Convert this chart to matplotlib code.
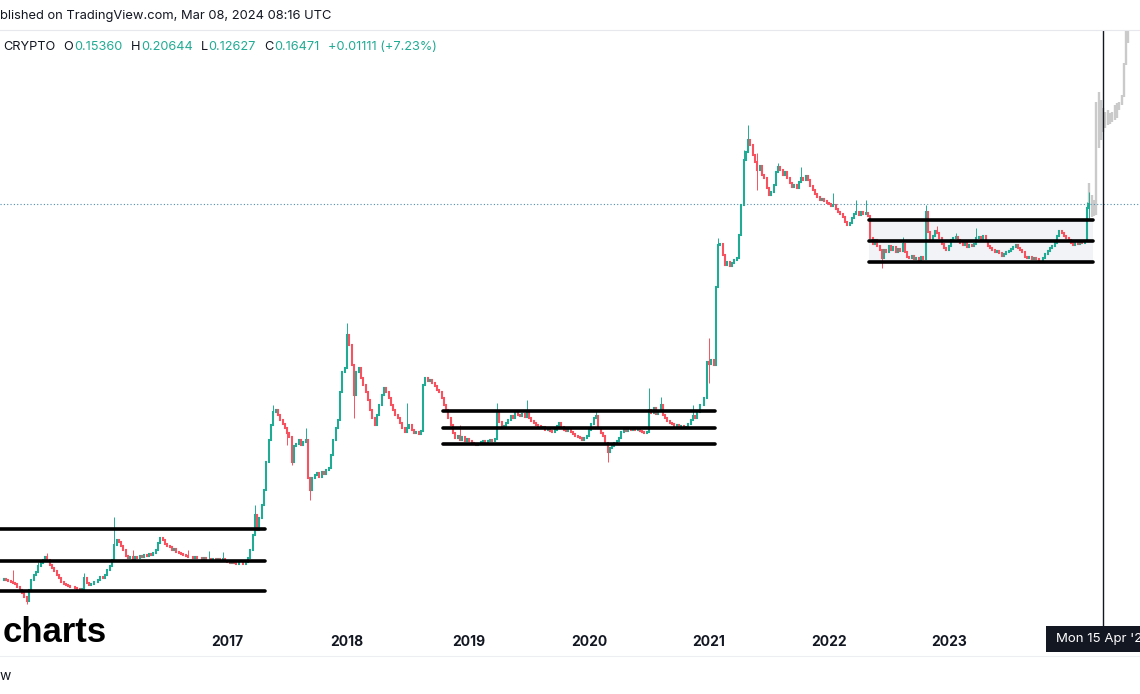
import numpy as np
import pandas as pd
import matplotlib
matplotlib.use('Agg')
import matplotlib.pyplot as plt
import matplotlib.dates as mdates
from matplotlib.lines import Line2D
from matplotlib.patches import Rectangle

plt.rcParams['font.family'] = ['Inter', 'DejaVu Sans']

# weekly closes (log scale), one list per calendar year
first_open = 1.30e-4
close_2015 = [1.29e-4, 1.29e-4, 1.31e-4, 1.29e-4, 1.26e-4, 1.24e-4, 1.21e-4, 1.19e-4, 1.12e-4, 1.06e-4,
              1.00e-4, 9.3e-5, 8.6e-5, 1.06e-4, 1.29e-4, 1.41e-4, 1.50e-4, 1.68e-4, 1.78e-4, 1.88e-4,
              1.99e-4, 1.88e-4, 1.71e-4, 1.62e-4, 1.53e-4, 1.41e-4, 1.34e-4, 1.24e-4, 1.19e-4, 1.17e-4,
              1.15e-4, 1.12e-4, 1.12e-4, 1.10e-4, 1.08e-4, 1.06e-4, 1.08e-4, 1.34e-4, 1.21e-4, 1.17e-4,
              1.19e-4, 1.24e-4, 1.24e-4, 1.29e-4, 1.36e-4, 1.34e-4, 1.41e-4]
close_2016 = [1.56e-4, 1.68e-4, 1.88e-4, 2.50e-4, 2.75e-4, 2.65e-4, 2.46e-4, 2.28e-4, 2.03e-4, 1.95e-4,
              1.99e-4, 1.92e-4, 1.99e-4, 1.95e-4, 2.03e-4, 1.99e-4, 2.07e-4, 2.03e-4, 2.11e-4, 2.07e-4,
              2.15e-4, 2.28e-4, 2.60e-4, 2.86e-4, 2.75e-4, 2.55e-4, 2.46e-4, 2.41e-4, 2.28e-4, 2.32e-4,
              2.19e-4, 2.15e-4, 2.11e-4, 2.07e-4, 2.03e-4, 1.99e-4, 1.99e-4, 1.95e-4, 1.99e-4, 1.95e-4,
              1.95e-4, 1.92e-4, 1.95e-4, 1.92e-4, 1.92e-4, 1.88e-4, 1.92e-4, 1.88e-4, 1.92e-4, 1.88e-4,
              1.92e-4, 1.85e-4]
close_2017 = [1.81e-4, 1.78e-4, 1.81e-4, 1.78e-4, 1.74e-4, 1.78e-4, 1.78e-4, 1.74e-4, 1.81e-4, 1.95e-4,
              2.28e-4, 3.03e-4, 4.43e-4, 3.33e-4, 4.18e-4, 5.36e-4, 7.13e-4, 1.22e-3, 1.85e-3, 2.46e-3,
              3.15e-3, 3.27e-3, 2.97e-3, 2.70e-3, 2.50e-3, 2.32e-3, 2.11e-3, 1.95e-3, 1.22e-3, 1.65e-3,
              1.71e-3, 1.85e-3, 1.68e-3, 1.78e-3, 1.85e-3, 8.96e-4, 7.13e-4, 8.96e-4, 9.48e-4, 9.85e-4,
              9.13e-4, 1.00e-3, 9.67e-4, 1.04e-3, 1.08e-3, 1.39e-3, 1.85e-3, 2.32e-3, 2.70e-3, 4.60e-3,
              6.74e-3, 7.27e-3]
close_2018 = [1.36e-2, 1.13e-2, 7.69e-3, 4.35e-3, 6.74e-3, 7.27e-3, 6.01e-3, 5.26e-3, 4.60e-3, 3.95e-3,
              3.27e-3, 2.81e-3, 2.46e-3, 2.97e-3, 3.59e-3, 4.35e-3, 4.96e-3, 4.60e-3, 4.11e-3, 3.59e-3,
              3.27e-3, 2.97e-3, 2.81e-3, 2.55e-3, 2.32e-3, 2.15e-3, 2.32e-3, 2.46e-3, 2.23e-3, 2.11e-3,
              2.15e-3, 2.07e-3, 2.19e-3, 5.26e-3, 6.01e-3, 5.67e-3, 5.78e-3, 5.46e-3, 5.16e-3, 4.78e-3,
              4.60e-3, 4.11e-3, 3.59e-3, 3.27e-3, 2.81e-3, 2.46e-3, 2.11e-3, 1.92e-3, 1.99e-3, 1.85e-3,
              1.95e-3, 1.81e-3, 1.88e-3]
close_2019 = [1.81e-3, 1.74e-3, 1.71e-3, 1.68e-3, 1.71e-3, 1.78e-3, 1.81e-3, 1.78e-3, 1.81e-3, 1.85e-3,
              1.81e-3, 1.88e-3, 3.09e-3, 2.60e-3, 2.32e-3, 2.41e-3, 2.55e-3, 2.70e-3, 2.92e-3, 2.81e-3,
              3.09e-3, 2.97e-3, 2.92e-3, 3.03e-3, 2.86e-3, 3.15e-3, 2.81e-3, 2.65e-3, 2.55e-3, 2.46e-3,
              2.41e-3, 2.32e-3, 2.36e-3, 2.23e-3, 2.28e-3, 2.19e-3, 2.15e-3, 2.23e-3, 2.41e-3, 2.55e-3,
              2.36e-3, 2.23e-3, 2.19e-3, 2.28e-3, 2.15e-3, 2.07e-3, 1.99e-3, 1.95e-3, 1.92e-3, 1.85e-3,
              1.92e-3, 1.99e-3]
close_2020 = [2.23e-3, 2.50e-3, 2.81e-3, 2.92e-3, 2.32e-3, 2.11e-3, 1.99e-3, 1.74e-3, 1.47e-3, 1.59e-3,
              1.65e-3, 1.74e-3, 1.81e-3, 1.92e-3, 2.15e-3, 2.23e-3, 2.19e-3, 2.28e-3, 2.23e-3, 2.32e-3,
              2.23e-3, 2.28e-3, 2.19e-3, 2.15e-3, 2.11e-3, 2.15e-3, 3.27e-3, 3.09e-3, 3.39e-3, 3.03e-3,
              3.21e-3, 3.59e-3, 2.97e-3, 2.81e-3, 2.65e-3, 2.55e-3, 2.50e-3, 2.41e-3, 2.46e-3, 2.36e-3,
              2.41e-3, 2.32e-3, 2.36e-3, 2.50e-3, 2.70e-3, 2.92e-3, 2.81e-3, 3.15e-3, 3.59e-3, 3.59e-3,
              4.11e-3, 8.15e-3]
close_2021 = [7.84e-3, 8.46e-3, 7.69e-3, 3.40e-2, 7.55e-2, 7.69e-2, 6.24e-2, 5.16e-2, 5.46e-2, 5.06e-2,
              5.36e-2, 5.67e-2, 5.89e-2, 9.13e-2, 0.161, 0.380, 0.443, 0.556, 0.506, 0.418,
              0.366, 0.314, 0.339, 0.286, 0.270, 0.223, 0.195, 0.207, 0.236, 0.303,
              0.333, 0.314, 0.286, 0.303, 0.270, 0.245, 0.227, 0.236, 0.223, 0.250,
              0.270, 0.260, 0.280, 0.260, 0.232, 0.215, 0.199, 0.188, 0.178, 0.181,
              0.174, 0.168]
close_2022 = [0.165, 0.158, 0.161, 0.150, 0.141, 0.136, 0.129, 0.117, 0.110, 0.115,
              0.126, 0.136, 0.141, 0.133, 0.141, 0.136, 0.139, 0.131, 8.62e-2, 7.69e-2,
              8.30e-2, 7.40e-2, 6.86e-2, 5.89e-2, 6.86e-2, 6.60e-2, 7.40e-2, 6.86e-2, 7.27e-2, 6.60e-2,
              6.99e-2, 6.73e-2, 7.69e-2, 6.60e-2, 6.00e-2, 5.89e-2, 6.12e-2, 5.78e-2, 5.89e-2, 5.67e-2,
              6.00e-2, 5.78e-2, 0.141, 9.67e-2, 8.14e-2, 8.96e-2, 9.85e-2, 9.48e-2, 8.62e-2, 7.69e-2,
              7.13e-2, 6.86e-2]
close_2023 = [7.40e-2, 8.30e-2, 8.62e-2, 8.79e-2, 8.30e-2, 7.84e-2, 7.55e-2, 7.84e-2, 7.27e-2, 7.55e-2,
              7.40e-2, 7.69e-2, 8.62e-2, 8.79e-2, 8.30e-2, 8.96e-2, 8.14e-2, 7.40e-2, 7.13e-2, 6.86e-2,
              6.60e-2, 6.73e-2, 6.48e-2, 6.12e-2, 6.36e-2, 6.60e-2, 6.73e-2, 6.99e-2, 7.27e-2, 7.55e-2,
              7.13e-2, 6.86e-2, 6.60e-2, 6.00e-2, 5.89e-2, 6.00e-2, 5.78e-2, 5.89e-2, 5.78e-2, 5.67e-2,
              5.67e-2, 5.89e-2, 6.36e-2, 6.73e-2, 7.13e-2, 7.40e-2, 7.84e-2, 8.96e-2, 9.85e-2, 9.48e-2,
              8.96e-2, 8.62e-2]
close_2024 = [8.30e-2, 7.84e-2, 7.55e-2, 7.84e-2, 7.69e-2, 7.99e-2, 7.84e-2, 8.14e-2, 0.1536, 0.16471]

# notable wicks (week index -> price)
high_wicks = {6: 1.56e-4, 17: 1.81e-4, 21: 2.15e-4, 37: 1.47e-4, 50: 4.3e-4, 58: 2.28e-4, 82: 2.28e-4,
              91: 2.23e-4, 97: 2.19e-4, 111: 5.36e-4, 119: 3.59e-3, 133: 2.32e-3, 151: 1.71e-2,
              177: 3.73e-3, 200: 2.46e-3, 216: 3.73e-3, 229: 3.95e-3, 259: 3.21e-3, 282: 4.96e-3,
              287: 4.18e-3, 301: 3.59e-3, 308: 1.29e-2, 312: 8.62e-2, 323: 0.460, 325: 0.740,
              329: 0.434, 338: 0.359, 348: 0.333, 362: 0.203, 372: 0.178, 376: 0.178, 392: 8.79e-2,
              402: 0.161, 407: 0.108, 415: 9.48e-2, 424: 0.104, 472: 0.17, 473: 0.20644}
low_wicks = {12: 8.1e-5, 125: 1.68e-3, 127: 1.15e-3, 135: 5.89e-4, 154: 2.81e-3, 264: 1.22e-3,
             308: 5.46e-3, 329: 0.215, 383: 4.87e-2, 473: 0.12627}

# projected (grey) bars after the last candle
ghost_lo = [0.161, 0.129, 0.130, 0.133, 0.478, 0.556, 0.648, 0.699, 0.740, 0.754,
            0.784, 0.814, 0.845, 0.985, 1.08, 1.25, 2.3, 3.5]
ghost_hi = [0.245, 0.195, 0.178, 1.15, 1.39, 1.19, 1.02, 0.948, 0.985, 0.930,
            0.948, 1.08, 1.13, 1.15, 1.31, 2.4, 5.5, 6.0]

# drawn range lines and their date spans
range_2016 = [3.37e-4, 1.86e-4, 1.04e-4]
range_2019 = [3.23e-3, 2.33e-3, 1.71e-3]
range_2023 = [0.1214, 8.19e-2, 5.43e-2]
range_dates = [('2015-01-01', '2017-04-26'), ('2018-10-19', '2021-01-21'), ('2022-05-05', '2024-03-16')]

last_close = 0.16471
cross_date = '2024-04-15'
tick_years = [2017, 2018, 2019, 2020, 2021, 2022, 2023]

closes = np.array(close_2015 + close_2016 + close_2017 + close_2018 + close_2019 +
                  close_2020 + close_2021 + close_2022 + close_2023 + close_2024)
dates = pd.date_range('2015-02-09', periods=len(closes), freq='7D')
opens = np.concatenate([[first_open], closes[:-1]])
highs = np.maximum(opens, closes)
lows = np.minimum(opens, closes)
for k, v in high_wicks.items():
    highs[k] = max(highs[k], v)
for k, v in low_wicks.items():
    lows[k] = min(lows[k], v)

x = mdates.date2num(dates.to_pydatetime())
up = closes >= opens
cols = np.where(up, '#22ab94', '#f7525f')

W, H = 1140, 694
fig = plt.figure(figsize=(W / 100, H / 100), dpi=100)
fig.patch.set_facecolor('white')
ax = fig.add_axes([0, 66 / H, 1, 598 / H])
ax.set_yscale('log')
ax.set_ylim(5.16e-5, 4.51)
ax.set_xlim(mdates.date2num(pd.Timestamp('2015-02-12')), mdates.date2num(pd.Timestamp('2024-08-05')))
for s in ax.spines.values():
    s.set_visible(False)
ax.yaxis.set_visible(False)

# grey projection
gx = mdates.date2num(pd.date_range('2024-03-04', periods=len(ghost_lo), freq='7D').to_pydatetime())
ax.vlines(gx, ghost_lo, ghost_hi, colors='#cacaca', lw=1.7, zorder=1, capstyle='butt')

# highlighted box of the last range
d0, d1 = [mdates.date2num(pd.Timestamp(d)) for d in range_dates[2]]
ax.fill_between([d0, d1], range_2023[2], range_2023[0], color='#f1f3f7', lw=0, zorder=0.5)

# candles
ax.vlines(x, lows, highs, colors=cols, lw=0.7, zorder=2)
ax.vlines(x, np.minimum(opens, closes), np.maximum(opens, closes), colors=cols, lw=1.5,
          zorder=2, capstyle='projecting')

for levels, (a, b) in zip([range_2016, range_2019, range_2023], range_dates):
    ax.hlines(levels, mdates.date2num(pd.Timestamp(a)), mdates.date2num(pd.Timestamp(b)),
              colors='black', lw=2.6, zorder=3, capstyle='round')

ax.axhline(last_close, color='#4f8fb0', lw=0.8, ls=(0, (1, 2)), zorder=1.5)
ax.axvline(mdates.date2num(pd.Timestamp(cross_date)), color='#131722', lw=1, zorder=4)

ticks = [x[dates.year == y][0] for y in tick_years]
ax.set_xticks(ticks)
ax.set_xticklabels([str(y) for y in tick_years], fontweight='bold', fontsize=10, color='#131722')
ax.tick_params(axis='x', length=0, pad=5)

# header, legend and frame lines
fig.text(0, 1 - 16 / H, 'blished on TradingView.com, Mar 08, 2024 08:16 UTC', ha='left', va='center',
         fontsize=9.3, color='#131722')
fig.add_artist(Line2D([0, 1], [1 - 30 / H] * 2, color='#e6e8ee', lw=0.8))
fig.add_artist(Line2D([0, 1], [1 - 656 / H] * 2, color='#eceef2', lw=0.8))

legend_parts = [(3, 'CRYPTO', '#131722'), (63, 'O', '#131722'), (74, '0.15360', '#22ab94'),
                (131, 'H', '#131722'), (141, '0.20644', '#22ab94'), (201, 'L', '#131722'),
                (208, '0.12627', '#22ab94'), (264, 'C', '#131722'), (274, '0.16471', '#22ab94'),
                (328, '+0.01111 (+7.23%)', '#22ab94')]
for px, txt, c in legend_parts:
    fig.text(px / W, 1 - 46.5 / H, txt, ha='left', va='center', fontsize=9.2, color=c)

fig.text(3 / W, 1 - 642 / H, 'charts', ha='left', va='baseline', fontsize=25, fontweight='bold',
         family='Liberation Sans', color='black')
fig.text(0, 1 - 676 / H, 'w', ha='left', va='center', fontsize=10, color='#131722')

# crosshair date label (runs past the right edge, as in the screenshot)
fig.add_artist(Rectangle((1046 / W, 1 - 652 / H), 100 / W, 26 / H, transform=fig.transFigure,
                         facecolor='#131722', edgecolor='none'))
fig.text(1056 / W, 1 - 639 / H, "Mon 15 Apr '24", ha='left', va='center', fontsize=9.5, color='white')

fig.savefig('out.png', dpi=100, facecolor='white')
